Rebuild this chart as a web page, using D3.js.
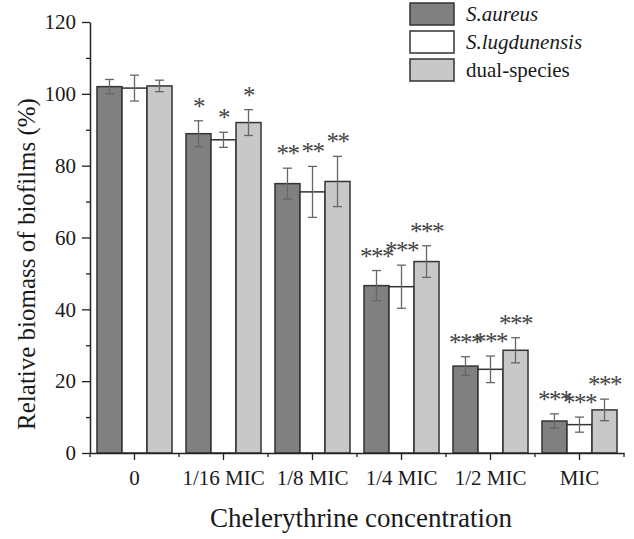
<!DOCTYPE html>
<html>
<head>
<meta charset="utf-8">
<script src="https://cdn.jsdelivr.net/npm/d3@7"></script>
<style>
  html, body { margin: 0; padding: 0; background: #fff; }
  svg { display: block; }
  text { font-family: "Liberation Serif", "Times New Roman", serif; fill: #1a1a1a; }
</style>
</head>
<body>
<svg id="chart" width="634" height="539"></svg>
<script>
// ---- data ----
const categories = ["0", "1/16 MIC", "1/8 MIC", "1/4 MIC", "1/2 MIC", "MIC"];
const seriesNames = ["S.aureus", "S.lugdunensis", "dual-species"];
const aureus     = [102.0, 88.9, 75.0, 46.6, 24.2, 8.9];
const aureusSD   = [2.0, 3.6, 4.3, 4.2, 2.6, 2.0];
const lugd       = [101.6, 87.2, 72.7, 46.3, 23.3, 7.9];
const lugdSD     = [3.6, 2.1, 7.1, 6.0, 3.7, 2.1];
const dual       = [102.2, 92.0, 75.6, 53.3, 28.6, 12.0];
const dualSD     = [1.6, 3.6, 7.0, 4.4, 3.5, 3.0];
const aureusSig  = ["", "*", "**", "***", "***", "***"];
const lugdSig    = ["", "*", "**", "***", "***", "***"];
const dualSig    = ["", "*", "**", "***", "***", "***"];
const yTicks     = [0, 20, 40, 60, 80, 100, 120];
const yMinorTicks = [10, 30, 50, 70, 90, 110];

// ---- styles ----
const fills = ["#808080", "#ffffff", "#c8c8c8"];
const italics = [true, true, false];

const svg = d3.select("#chart");
const margin = { left: 90, top: 22 };
const plotRight = 624, plotBottom = 453;

const x0 = d3.scaleBand().domain(categories).range([margin.left, plotRight]).paddingInner(0.157).paddingOuter(0.0785);
const x1 = d3.scaleBand().domain([0, 1, 2]).range([0, x0.bandwidth()]);
const y = d3.scaleLinear().domain([0, 120]).range([plotBottom, margin.top]);

const means = [aureus, lugd, dual];
const sds = [aureusSD, lugdSD, dualSD];
const sigs = [aureusSig, lugdSig, dualSig];

const rows = [];
categories.forEach((c, i) => {
  for (let s = 0; s < 3; s++) {
    rows.push({ cat: c, s, v: means[s][i], sd: sds[s][i], sig: sigs[s][i] });
  }
});

// bars
svg.append("g").selectAll("rect").data(rows).join("rect")
  .attr("x", d => x0(d.cat) + x1(d.s))
  .attr("y", d => y(d.v))
  .attr("width", x1.bandwidth())
  .attr("height", d => y(0) - y(d.v))
  .attr("fill", d => fills[d.s])
  .attr("stroke", "#333")
  .attr("stroke-width", 1.5);

// error bars
const eb = svg.append("g").attr("stroke", "#666").attr("stroke-width", 1.3).attr("fill", "none");
rows.forEach(d => {
  const cx = x0(d.cat) + x1(d.s) + x1.bandwidth() / 2;
  const y1 = y(d.v + d.sd), y2 = y(d.v - d.sd);
  eb.append("line").attr("x1", cx).attr("x2", cx).attr("y1", y1).attr("y2", y2);
  eb.append("line").attr("x1", cx - 4.5).attr("x2", cx + 4.5).attr("y1", y1).attr("y2", y1);
  eb.append("line").attr("x1", cx - 4.5).attr("x2", cx + 4.5).attr("y1", y2).attr("y2", y2);
});

// significance stars
svg.append("g").selectAll("text").data(rows.filter(d => d.sig)).join("text")
  .attr("x", d => x0(d.cat) + x1(d.s) + x1.bandwidth() / 2)
  .attr("y", d => y(d.v + d.sd) - 6)
  .attr("text-anchor", "middle")
  .style("font-size", "25px")
  .style("letter-spacing", "-1.5px")
  .style("fill", "#444")
  .text(d => d.sig);

// y axis
const yAxis = svg.append("g").attr("transform", `translate(${margin.left},0)`)
  .call(d3.axisLeft(y).tickValues(yTicks).tickSize(8).tickSizeOuter(0).tickPadding(6));
svg.append("g").attr("transform", `translate(${margin.left},0)`)
  .call(d3.axisLeft(y).tickValues(yMinorTicks).tickSize(4).tickFormat("").tickSizeOuter(0))
  .select(".domain").remove();
yAxis.selectAll("text").style("font-size", "21px").style("font-family", "Liberation Serif, serif").attr("fill", "#1a1a1a");

// x axis
const xAxis = svg.append("g").attr("transform", `translate(0,${plotBottom})`)
  .call(d3.axisBottom(x0).tickSize(7).tickSizeOuter(0).tickPadding(10));
xAxis.selectAll("text").style("font-size", "21px").style("font-family", "Liberation Serif, serif").attr("fill", "#1a1a1a");
// minor ticks at category boundaries
const bounds = categories.map(c => x0(c) - x0.step() * x0.paddingInner() / 2).concat([plotRight]);
svg.append("g").selectAll("line").data(bounds).join("line")
  .attr("x1", d => d).attr("x2", d => d)
  .attr("y1", plotBottom).attr("y2", plotBottom + 4)
  .attr("stroke", "#222").attr("stroke-width", 1.3);

svg.selectAll(".domain").attr("stroke", "#222").attr("stroke-width", 1.5);
svg.selectAll(".tick line").attr("stroke", "#222").attr("stroke-width", 1.3);

// axis titles
svg.append("text")
  .attr("x", 361).attr("y", 527)
  .attr("text-anchor", "middle")
  .style("font-size", "27px")
  .text("Chelerythrine concentration");
svg.append("text")
  .attr("transform", `translate(35,264) rotate(-90)`)
  .attr("text-anchor", "middle")
  .style("font-size", "25px")
  .text("Relative biomass of biofilms (%)");

// legend
const lg = svg.append("g").attr("transform", "translate(410,3)");
seriesNames.forEach((n, i) => {
  const g = lg.append("g").attr("transform", `translate(0,${i * 28})`);
  g.append("rect").attr("width", 44).attr("height", 22)
    .attr("fill", fills[i]).attr("stroke", "#333").attr("stroke-width", 1.5);
  g.append("text").attr("x", 56).attr("y", 18)
    .style("font-size", "21px")
    .style("font-style", italics[i] ? "italic" : "normal")
    .text(n);
});
</script>
</body>
</html>
